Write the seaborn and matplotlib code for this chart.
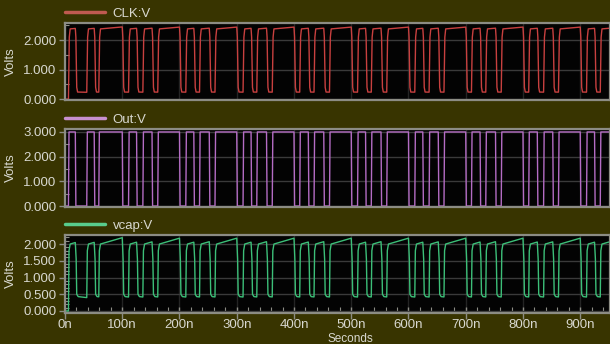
import matplotlib
matplotlib.use("Agg")
import matplotlib.pyplot as plt
import numpy as np
import pandas as pd
import seaborn as sns
from matplotlib.ticker import MultipleLocator, FuncFormatter

# switching edges (ns)
rise_ns = [6, 38, 59, 111, 136, 162, 211, 235, 262, 311, 335, 362, 410, 435, 462,
           511, 535, 562, 611, 636, 662, 710, 735, 762, 810, 836, 862, 911, 935]
fall_ns = [18, 51, 100, 125, 152, 200, 225, 252, 300, 325, 352, 400, 425, 452,
           500, 525, 552, 600, 625, 652, 700, 725, 752, 800, 825, 852, 900, 925]
t_end = 952

# per trace: start level, knots after a rising edge, knots after a falling edge,
# level reached at the end of a long high / long low
clk_start = 0.0
clk_rise = [(1.5, 2.1), (3.0, 2.38)]
clk_fall = [(1.0, 2.1), (2.5, 0.4), (4.0, 0.24)]
clk_hi_end, clk_lo_end = 2.45, 0.22

out_start = 0.0
out_rise = [(1.0, 3.0)]
out_fall = [(1.0, 0.0)]
out_hi_end, out_lo_end = 3.0, 0.0

vcap_start = 0.0
vcap_rise = [(1.0, 1.8), (3.0, 2.0)]
vcap_fall = [(1.5, 1.55), (2.5, 0.5), (5.0, 0.43)]
vcap_hi_end, vcap_lo_end = 2.2, 0.35

yticks_clk = [0, 1, 2]
yticks_out = [0, 1, 2, 3]
yticks_vcap = [0, 0.5, 1.0, 1.5, 2.0]
xticks_ns = [0, 100, 200, 300, 400, 500, 600, 700, 800, 900]


def build_trace(start, rise, fall, hi_end, lo_end, settle=40.0):
    edges = sorted([(t, 1) for t in rise_ns] + [(t, 0) for t in fall_ns])
    ts, vs = [0.0], [start]
    for i, (t, state) in enumerate(edges):
        nxt = edges[i + 1][0] if i + 1 < len(edges) else t_end
        ts.append(t)
        vs.append(vs[-1])
        for dt, v in (rise if state else fall):
            ts.append(t + dt)
            vs.append(v)
        t0, v0 = ts[-1], vs[-1]
        target = hi_end if state else lo_end
        frac = min(1.0, (nxt - t0) / settle)
        ts.append(nxt)
        vs.append(v0 + (target - v0) * frac)
    return pd.DataFrame({"t": ts, "V": vs})


df_clk = build_trace(clk_start, clk_rise, clk_fall, clk_hi_end, clk_lo_end)
df_out = build_trace(out_start, out_rise, out_fall, out_hi_end, out_lo_end)
df_vcap = build_trace(vcap_start, vcap_rise, vcap_fall, vcap_hi_end, vcap_lo_end)

sns.set_theme(style="dark")
bg = "#383400"
fg = "#d8d8d0"
frame = "#8c8c84"
plt.rcParams["font.family"] = ["Liberation Sans", "DejaVu Sans"]
plt.rcParams["font.size"] = 9.5

fig = plt.figure(figsize=(6.1, 3.44), dpi=100, facecolor=bg)

W, H = 610.0, 344.0
panels = [
    # (top px, bottom px, data, colour, legend colour, label, ylim, ticks, minor)
    (23, 100, df_clk, "#c8403f", "#c05a50", "CLK:V", (-0.03, 2.58), yticks_clk, 0.5),
    (129, 207, df_out, "#b46cc4", "#c890d0", "Out:V", (-0.04, 3.12), yticks_out, 0.5),
    (235, 313, df_vcap, "#3cbf78", "#58cc8c", "vcap:V", (-0.06, 2.27), yticks_vcap, 0.1),
]

for i, (top, bot, df, col, lcol, lab, ylim, yt, ymin) in enumerate(panels):
    ax = fig.add_axes([65 / W, 1 - bot / H, 1 - 65 / W, (bot - top) / H])
    ax.set_facecolor("#030303")
    sns.lineplot(data=df, x="t", y="V", ax=ax, color=col, lw=1.0,
                 estimator=None, sort=False, label=lab)
    ax.set_xlim(0, t_end)
    ax.set_ylim(*ylim)
    ax.set_yticks(yt)
    ax.yaxis.set_minor_locator(MultipleLocator(ymin))
    ax.yaxis.set_major_formatter(FuncFormatter(lambda v, p: f"{v:.3f}"))
    ax.set_xticks(xticks_ns)
    ax.xaxis.set_minor_locator(MultipleLocator(20))
    ax.grid(True, which="major", axis="y", color="#3a3a3a", lw=1.0)
    ax.grid(True, which="major", axis="x", color="#242424", lw=1.0)
    for s in ax.spines.values():
        s.set_color(frame)
        s.set_linewidth(1.6)
    ax.tick_params(axis="y", which="major", left=True, length=4, width=1,
                   color=frame, labelcolor=fg, labelsize=9.5, pad=2)
    ax.tick_params(axis="y", which="minor", left=True, direction="in",
                   length=3, width=0.8, color=frame)
    if i < 2:
        ax.tick_params(axis="x", which="both", bottom=False, labelbottom=False)
    else:
        ax.xaxis.set_major_formatter(FuncFormatter(lambda v, p: f"{v:.0f}n"))
        ax.tick_params(axis="x", which="major", bottom=True, direction="inout",
                       length=8, width=1, color=frame, labelcolor=fg,
                       labelsize=9.5, pad=0)
        ax.tick_params(axis="x", which="minor", bottom=True, direction="in",
                       length=4, width=0.8, color=frame)
    ax.set_xlabel("")
    ax.set_ylabel("Volts", color=fg, fontsize=9.5, labelpad=2)
    ax.yaxis.set_label_coords(-0.088, 0.5)
    leg = ax.legend(loc="center left", bbox_to_anchor=(0, 1 + 9.5 / (bot - top)),
                    frameon=False, borderpad=0, borderaxespad=0,
                    handlelength=3.0, handletextpad=0.6, fontsize=9.5)
    for h in leg.legend_handles:
        h.set_color(lcol)
        h.set_linewidth(2.5)
    for tx in leg.get_texts():
        tx.set_color(fg)

fig.text(350 / W, 1 - 338.5 / H, "Seconds", color=fg, fontsize=8.5,
         ha="center", va="center")

fig.savefig("out.png", dpi=100, facecolor=bg)
